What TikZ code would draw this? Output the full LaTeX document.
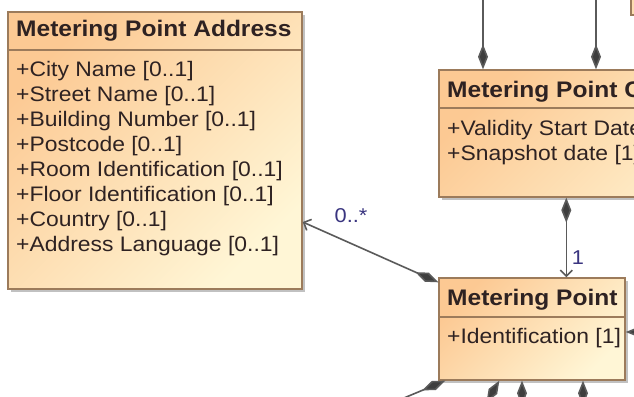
\documentclass[tikz,border=0pt]{standalone}
\usepackage{fontspec}
\usetikzlibrary{arrows.meta,shadows}
\newfontfamily\umlfont{Liberation Sans}[FakeStretch=1.09]
\definecolor{umlorange}{HTML}{FCC993}
\definecolor{umlyellow}{HTML}{FFF6D6}
\definecolor{umlborder}{HTML}{9C7B5B}
\definecolor{linegray}{HTML}{5A5A5A}
\definecolor{tipgray}{HTML}{3E3E3E}
\definecolor{textdark}{HTML}{2E2222}
\definecolor{multblue}{HTML}{3A3580}

\begin{document}
\begin{tikzpicture}[
	x=1pt, y=-1pt,
	umlclass/.style={
		rectangle,
		draw=umlborder,
		line width=1.4pt,
		top color=umlorange,
		bottom color=umlyellow,
		shading angle=45,
		drop shadow={shadow xshift=3pt, shadow yshift=-3pt, fill=black!40, opacity=0.6},
		inner sep=0pt
	},
	umltitle/.style={
		anchor=base west,
		inner sep=0pt,
		text=textdark,
		font=\umlfont\fontsize{22.5}{27}\selectfont\bfseries
	},
	umlattr/.style={
		anchor=base west,
		inner sep=0pt,
		text=textdark,
		font=\umlfont\fontsize{21}{25}\selectfont
	},
	umlsep/.style={
		draw=umlborder,
		line width=1.4pt
	},
	comp/.style={
		draw=linegray,
		line width=1.6pt,
		{Diamond[length=25pt,width=10pt,fill=tipgray]}-
	},
	compnav/.style={
		draw=linegray,
		line width=1.6pt,
		{Diamond[length=25pt,width=10pt,fill=tipgray]}-{Straight Barb[length=6pt,width=12pt]}
	},
	mult/.style={
		inner sep=0pt,
		text=multblue,
		font=\umlfont\fontsize{20}{24}\selectfont
	},
]

\useasboundingbox (0,0) rectangle (634,396);
\fill[white] (0,0) rectangle (634,396);
\clip (0,0) rectangle (634,396);

% Metering Point Address
\node[umlclass, minimum width=294pt, minimum height=277pt] (mpa) at (155,150.5) {};
\node[umltitle] (mpatitle) at (16,37) {Metering Point Address};
\coordinate (mpasep) at (0,50);
\draw[umlsep] (mpa.west |- mpasep) -- (mpa.east |- mpasep);

\node[umlattr] (a1) at (16,76) {+City Name [0..1]};
\node[umlattr] (a2) at (16,101) {+Street Name [0..1]};
\node[umlattr] (a3) at (16,126) {+Building Number [0..1]};
\node[umlattr] (a4) at (16,151) {+Postcode [0..1]};
\node[umlattr] (a5) at (16,176) {+Room Identification [0..1]};
\node[umlattr] (a6) at (16,201) {+Floor Identification [0..1]};
\node[umlattr] (a7) at (16,226) {+Country [0..1]};
\node[umlattr] (a8) at (16,251) {+Address Language [0..1]};

% class above, only its corner shows
\node[umlclass, minimum width=138pt, minimum height=130pt] (other) at (700,-50) {};

% Metering Point Characteristic
\node[umlclass, minimum width=360pt, minimum height=127pt] (mpc) at (619,133.5) {};
\node[umltitle] (mpctitle) at (447,97) {Metering Point Characteristic};
\coordinate (mpcsep) at (0,108);
\draw[umlsep] (mpc.west |- mpcsep) -- (mpc.east |- mpcsep);
\node[umlattr] (c1) at (447,135) {+Validity Start Date [1]};
\node[umlattr] (c2) at (447,160) {+Snapshot date [1]};

% Metering Point
\node[umlclass, minimum width=186pt, minimum height=102pt] (mp) at (532,329) {};
\node[umltitle] (mptitle) at (447,305) {Metering Point};
\coordinate (mpsep) at (0,317);
\draw[umlsep] (mp.west |- mpsep) -- (mp.east |- mpsep);
\node[umlattr] (p1) at (447,343) {+Identification [1]};

% links leaving the picture
\coordinate (up1) at (483,-10);
\coordinate (up2) at (596,-10);
\coordinate (right1) at (660,332);
\coordinate (down1) at (380,408);
\coordinate (down2) at (470,430);
\coordinate (down3) at (522,420);
\coordinate (down4) at (583,420);

\draw[comp] (mpc.north -| up1) -- (up1);
\draw[comp] (mpc.north -| up2) -- (up2);

\draw[compnav] ([xshift=128pt]mpc.south west) -- ([xshift=128pt]mp.north west);
\node[mult] (m1) at (578,258) {1};

\draw[compnav] ([yshift=-5pt]mp.north west) -- ([yshift=-71.5pt]mpa.east);
\node[mult] (m2) at (351,216) {0..*};

\draw[comp] (mp.east |- right1) -- (right1);
\draw[comp] ([xshift=7pt]mp.south west) -- (down1);
\draw[comp] ([xshift=61pt]mp.south west) -- (down2);
\draw[comp] (mp.south -| down3) -- (down3);
\draw[comp] (mp.south -| down4) -- (down4);

\end{tikzpicture}
\end{document}
